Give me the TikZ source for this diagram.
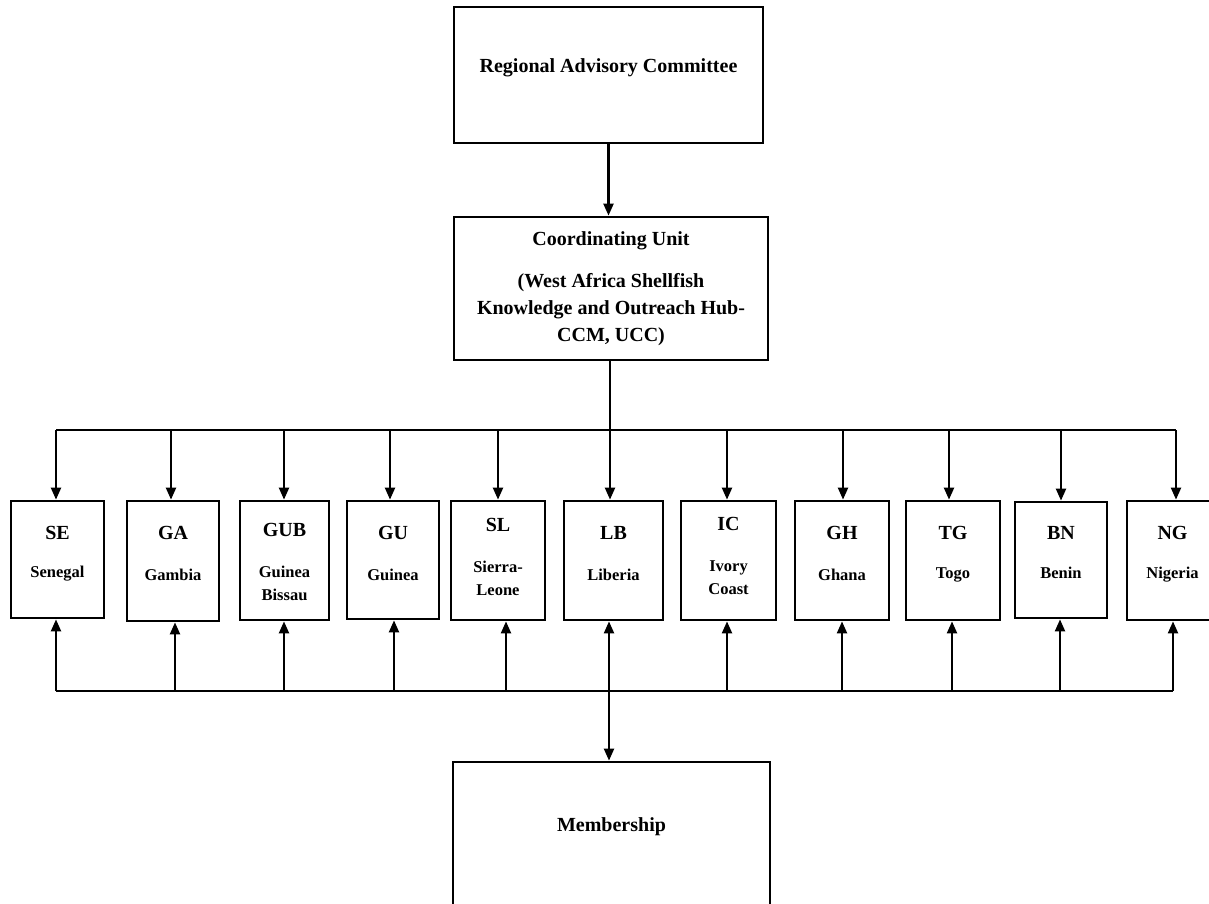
\documentclass[tikz,border=0pt]{standalone}
\usepackage{fontspec}
\setmainfont{Liberation Serif}
\usetikzlibrary{arrows.meta}
\tikzset{
  box/.style={draw=black, line width=2.8pt, rectangle, inner sep=0pt},
  conn/.style={draw=black, line width=2.2pt},
  arr/.style={conn, -{Triangle[width=10pt,length=12pt]}},
  bigtxt/.style={font=\fontsize{20}{27}\selectfont\bfseries, align=center, inner sep=0pt},
  codetxt/.style={font=\fontsize{20}{24}\selectfont\bfseries, inner sep=0pt},
  nametxt/.style={font=\fontsize{16.5}{23}\selectfont\bfseries, align=center, inner sep=0pt}
}
\begin{document}
\begin{tikzpicture}[x=1pt,y=-1pt]
\useasboundingbox (0,0) rectangle (1209,903);
\clip (0,0) rectangle (1209,903);
\fill[white] (0,0) rectangle (1209,903);

% top boxes
\node[box, minimum width=309pt, minimum height=136pt] (rac) at (608.5,75) {};
\node[bigtxt] (ractxt) at (608.5,68) {Regional Advisory Committee};
\node[box, minimum width=314pt, minimum height=143pt, bigtxt] (cu) at (611,288.5)
  {Coordinating Unit\\[15pt](West Africa Shellfish\\Knowledge and Outreach Hub-\\CCM, UCC)};
\node[box, minimum width=317pt, minimum height=180pt] (memb) at (611.5,852) {};
\node[bigtxt] (membtxt) at (611.5,827) {Membership};

% country boxes
\foreach \n/\x/\w/\cy/\h/\c/\yc/\nm/\yn/\dx/\ux in {
  SE/57.5/93/559.5/117/SE/533/Senegal/574/56/56,
  GA/173/92/561/120/GA/533/Gambia/575/171/175,
  GUB/284.5/89/560.5/119/GUB/530/{Guinea\\Bissau}/583/284/284,
  GU/393/92/560/118/GU/533/Guinea/575/390/394,
  SL/498/94/560.5/119/SL/525/{Sierra-\\Leone}/578/498/506,
  LB/613.5/99/560.5/119/LB/533/Liberia/575/610/609,
  IC/728.5/95/560.5/119/IC/524/{Ivory\\Coast}/578/727/727,
  GH/842/94/560.5/119/GH/533/Ghana/575/843/842,
  TG/953/94/560.5/119/TG/533/Togo/575/949/952,
  BN/1061/92/560/116/BN/533/Benin/573/1061/1060,
  NG/1172.5/91/560.5/119/NG/533/Nigeria/575/1176/1173}{
  \node[box, minimum width=\w pt, minimum height=\h pt] (\n) at (\x,\cy) {};
  \node[codetxt] (\n c) at (\x,\yc) {\c};
  \node[nametxt] (\n n) at (\x,\yn) {\nm};
  \coordinate (t\n) at (\dx,430);
  \coordinate (b\n) at (\ux,691);
  \draw[arr] (t\n) -- (t\n |- \n.north);
  \draw[arr] (b\n) -- (b\n |- \n.south);
}

% buses
\draw[conn] (tSE) -- (tNG);
\draw[conn] (bSE) -- (bNG);

% vertical trunk lines
\draw[arr] (rac.south) -- (rac.south |- cu.north);
\draw[conn] (cu.south -| tLB) -- (tLB);
\draw[arr] (bLB) -- (bLB |- memb.north);
\end{tikzpicture}
\end{document}
